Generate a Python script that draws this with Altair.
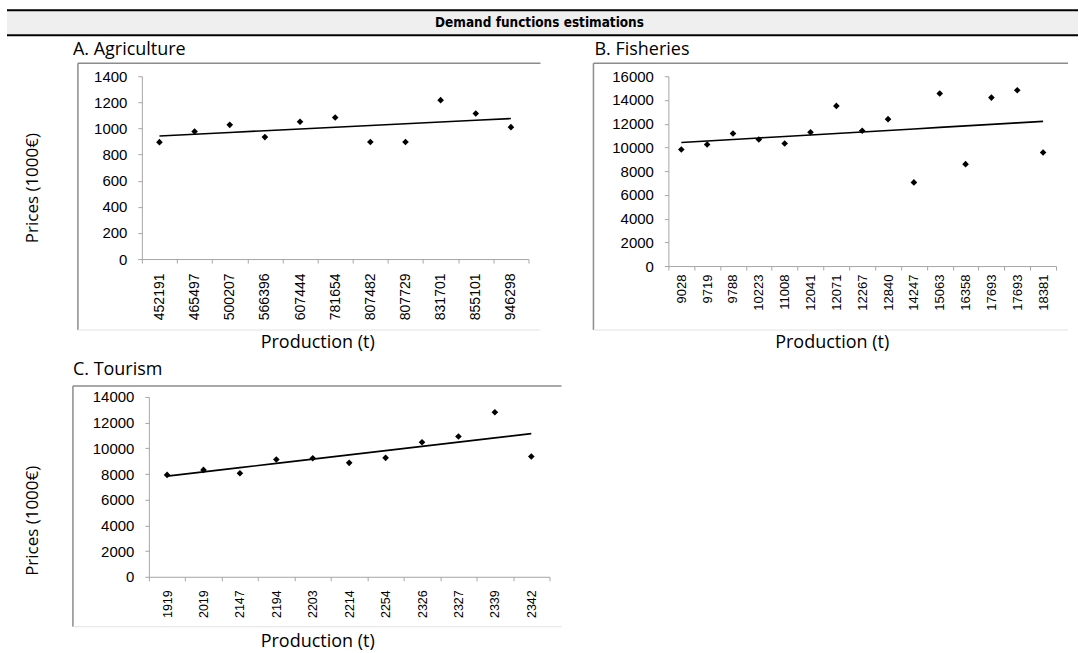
import altair as alt
import pandas as pd

# ---- data -------------------------------------------------------------
agri_prod = ["452191", "465497", "500207", "566396", "607444", "781654",
             "807482", "807729", "831701", "855101", "946298"]
agri_price = [895, 977, 1028, 934, 1051, 1084, 896, 896, 1217, 1115, 1010]

fish_prod = ["9028", "9719", "9788", "10223", "11008", "12041", "12071", "12267",
             "12840", "14247", "15063", "16358", "17693", "17693", "18381"]
fish_price = [9820, 10250, 11170, 10670, 10330, 11280, 13500, 11400,
              12380, 7050, 14540, 8590, 14200, 14820, 9570]

tour_prod = ["1919", "2019", "2147", "2194", "2203", "2214", "2254", "2326",
             "2327", "2339", "2342"]
tour_price = [7930, 8320, 8060, 9130, 9230, 8870, 9260, 10470, 10920, 12810, 9360]

HUMAN_FONT = "Open Sans"
AXIS_FONT = "Liberation Sans"
HEAD_FONT = "DejaVu Sans Condensed, Liberation Sans"
one = pd.DataFrame({"k": [0]})


def txt(text, x, y, size=18, align="left", angle=0, font=HUMAN_FONT, weight="normal"):
    return alt.Chart(one).mark_text(
        text=text, align=align, baseline="middle", font=font, fontSize=size,
        angle=angle, color="black", fontWeight=weight,
    ).encode(x=alt.value(x), y=alt.value(y))


def frame(x0, x1, y0, y1):
    """Chart-area border: dark top/left edges, pale bottom edge."""
    top = alt.Chart(one).mark_rule(color="#8c8c8c", strokeWidth=1.5).encode(
        x=alt.value(x0), x2=alt.value(x1), y=alt.value(y0))
    left = alt.Chart(one).mark_rule(color="#8c8c8c", strokeWidth=1.5).encode(
        x=alt.value(x0), y=alt.value(y0), y2=alt.value(y1))
    bottom = alt.Chart(one).mark_rule(color="#e2e2e2", strokeWidth=1).encode(
        x=alt.value(x0), x2=alt.value(x1), y=alt.value(y1))
    return [top, left, bottom]


def panel(prod, price, ymax, ystep, width, height, xlab_size, xlab_pad, x0=0):
    df = pd.DataFrame({"idx": list(range(len(prod))), "prod": prod, "price": price})
    label_expr = "[" + ",".join(f"'{p}'" for p in prod) + "][datum.value]"
    x_scale = alt.Scale(type="band", paddingInner=0, paddingOuter=0)
    if x0:
        x_scale = alt.Scale(type="band", paddingInner=0, paddingOuter=0,
                            range=[x0, width])
    x = alt.X(
        "idx:O", scale=x_scale,
        axis=alt.Axis(title=None, labelExpr=label_expr, labelAngle=270,
                      labelFontSize=xlab_size, labelPadding=xlab_pad,
                      tickBand="extent", tickSize=4, labelFont=AXIS_FONT),
    )
    y_axis = alt.Axis(title=None, values=list(range(0, ymax + 1, ystep)), format="d",
                      labelFontSize=15, labelPadding=11, tickSize=4,
                      labelFont=AXIS_FONT, grid=False, offset=-x0)
    y_scale = alt.Scale(domain=[0, ymax], nice=False)

    base = alt.Chart(df)
    pts = base.mark_point(shape="diamond", filled=True, size=44, color="black",
                          opacity=1).encode(
        x=x, y=alt.Y("price:Q", scale=y_scale, axis=y_axis))
    # least-squares trend line over the category index
    trend = (
        base.transform_joinaggregate(mx="mean(idx)", my="mean(price)")
        .transform_calculate(dxy="(datum.idx - datum.mx) * (datum.price - datum.my)",
                             dxx="(datum.idx - datum.mx) * (datum.idx - datum.mx)")
        .transform_joinaggregate(sxy="sum(dxy)", sxx="sum(dxx)")
        .transform_calculate(fit="datum.my + datum.sxy / datum.sxx * (datum.idx - datum.mx)")
        .mark_line(color="black", strokeWidth=1.6)
        .encode(x=x, y=alt.Y("fit:Q", scale=y_scale, axis=y_axis))
    )
    return [trend, pts], dict(width=width, height=height)


# ---- panel A: agriculture (plot origin at page 142,76) -----------------
a_layers, a_size = panel(agri_prod, agri_price, 1400, 200, 387, 183, 14, 10)
page = alt.Chart(one).mark_rect(opacity=0).encode(
    x=alt.value(-142), x2=alt.value(937), y=alt.value(-76), y2=alt.value(577))
band = alt.Chart(one).mark_rect(color="#efefef").encode(
    x=alt.value(-135), x2=alt.value(937), y=alt.value(-65), y2=alt.value(-42))
rule_top = alt.Chart(one).mark_rule(color="black", strokeWidth=2).encode(
    x=alt.value(-135), x2=alt.value(937), y=alt.value(-66))
rule_bot = alt.Chart(one).mark_rule(color="black", strokeWidth=2).encode(
    x=alt.value(-135), x2=alt.value(937), y=alt.value(-41))
header = txt("Demand functions estimations", 398, -53, size=13.5, align="center",
             font=HEAD_FONT, weight="bold")

chart_a = alt.layer(
    page, band, rule_top, rule_bot, header,
    *frame(-64, 399, -13, 254),
    txt("A. Agriculture", -69, -26),
    txt("Production (t)", 176, 267, align="center"),
    txt("Prices (1000€)", -109, 112, size=17, align="center", angle=270),
    *a_layers,
).properties(**a_size)

# ---- panel B: fisheries (plot origin at page 669,76) -------------------
b_layers, b_size = panel(fish_prod, fish_price, 16000, 2000, 388, 190, 13, 4)
chart_b = alt.layer(
    *frame(-75, 400, -13, 254),
    txt("B. Fisheries", -74, -26),
    txt("Production (t)", 164, 267, align="center"),
    *b_layers,
).properties(**b_size)

# ---- panel C: tourism (cell origin at page 142,397; axis starts 7px in) --
c_layers, c_size = panel(tour_prod, tour_price, 14000, 2000, 408, 180, 12.5, 9, x0=7)
chart_c = alt.layer(
    *frame(-69, 420, -11, 230),
    txt("C. Tourism", -69, -27),
    txt("Production (t)", 176, 245, align="center"),
    txt("Prices (1000€)", -109, 124, size=17, align="center", angle=270),
    *c_layers,
).properties(**c_size)

chart = (
    alt.concat(chart_a, chart_b, chart_c, columns=2,
               spacing={"row": 131, "column": 119}, bounds="flush")
    .properties(padding=0, background="white")
    .configure_view(stroke=None)
    .configure_axis(domainColor="#a6a6a6", tickColor="#a6a6a6", labelColor="black",
                    domainWidth=1)
)

chart.save("out.html", embed_options={"renderer": "svg", "actions": False})
